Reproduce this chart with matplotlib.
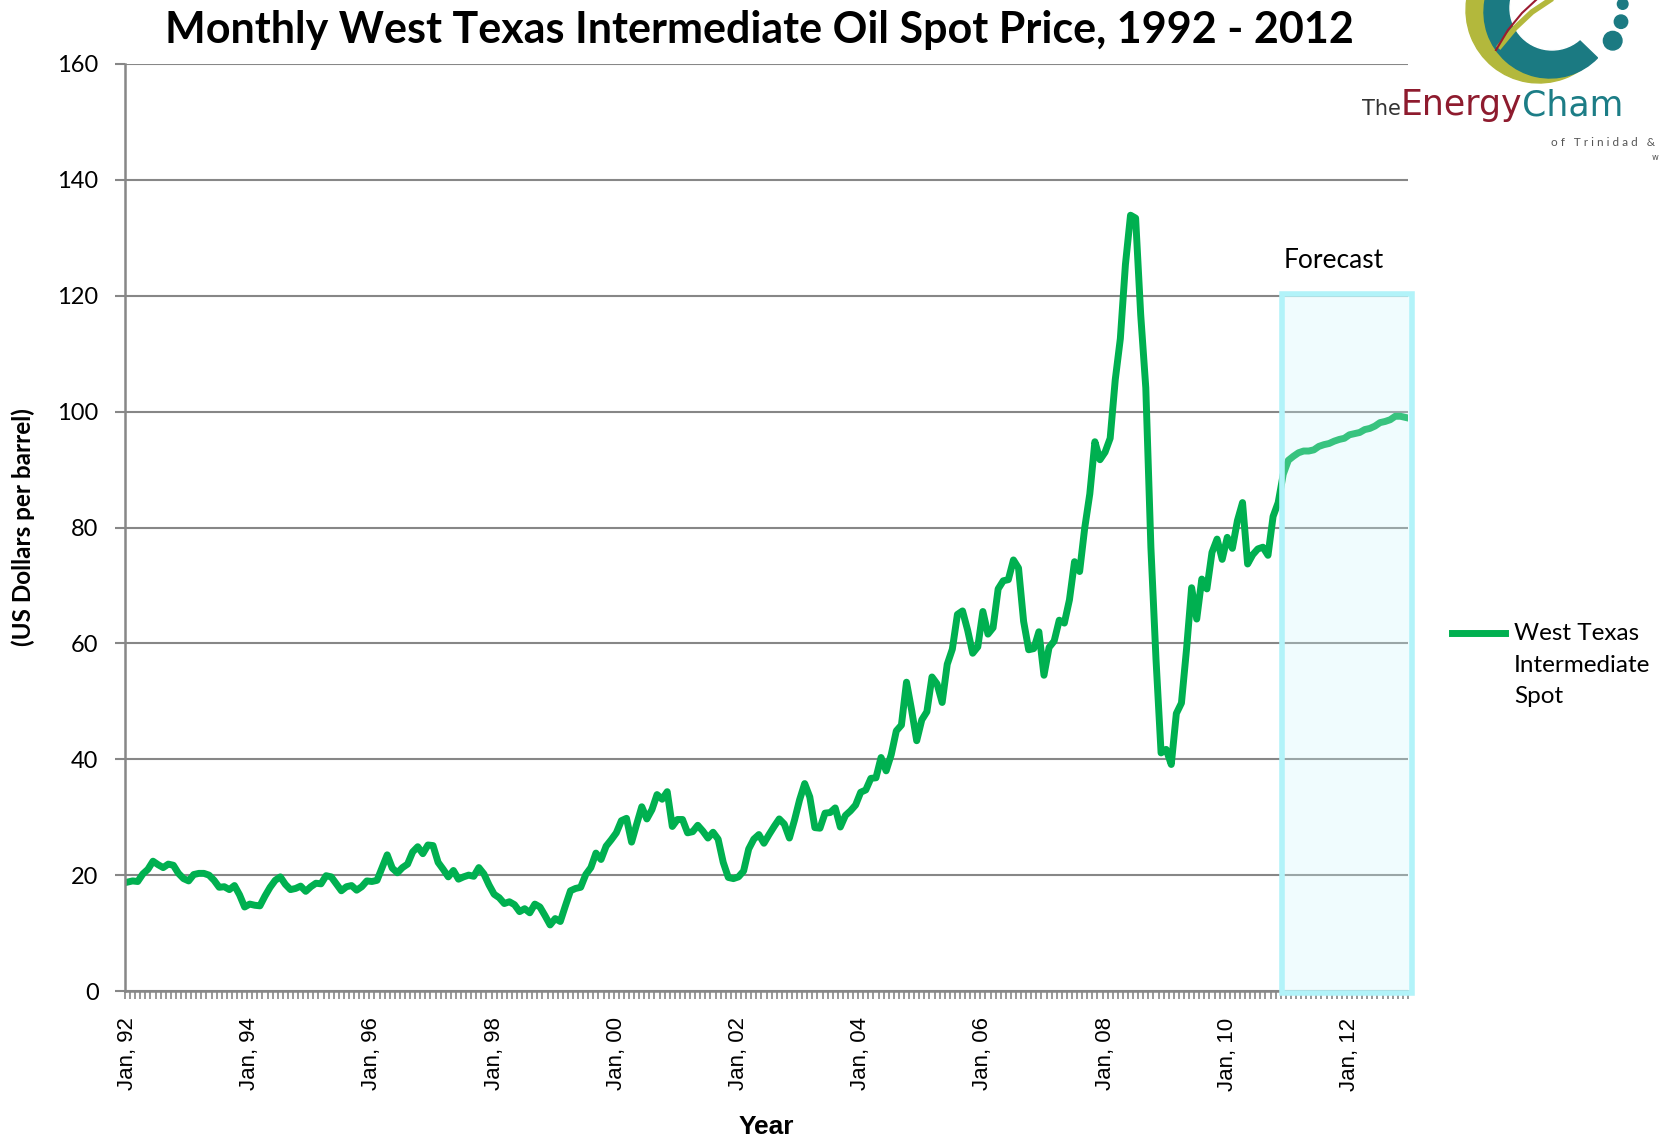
import numpy as np
import pandas as pd
import matplotlib
matplotlib.use("Agg")
from matplotlib import pyplot as plt
from matplotlib.patches import Rectangle, Wedge, Circle
from matplotlib.lines import Line2D

# monthly WTI spot price, US$/bbl, one row per year, Jan 1992 - Dec 2010
actual_prices = [
    18.8, 19.0, 18.9, 20.2, 21.0, 22.4, 21.8, 21.3, 21.9, 21.7, 20.3, 19.4,   # 1992
    19.0, 20.1, 20.3, 20.3, 20.0, 19.1, 17.9, 18.0, 17.5, 18.2, 16.6, 14.5,   # 1993
    15.0, 14.8, 14.7, 16.4, 17.9, 19.1, 19.7, 18.4, 17.5, 17.7, 18.1, 17.2,   # 1994
    18.0, 18.6, 18.5, 19.9, 19.7, 18.5, 17.3, 18.0, 18.2, 17.4, 18.0, 19.0,   # 1995
    18.9, 19.1, 21.3, 23.5, 21.2, 20.4, 21.3, 21.9, 24.0, 24.9, 23.7, 25.2,   # 1996
    25.1, 22.2, 21.0, 19.7, 20.8, 19.3, 19.7, 20.0, 19.8, 21.3, 20.2, 18.3,   # 1997
    16.7, 16.1, 15.1, 15.4, 14.9, 13.7, 14.2, 13.5, 15.0, 14.5, 13.0, 11.4,   # 1998
    12.5, 12.0, 14.7, 17.3, 17.7, 17.9, 20.1, 21.3, 23.8, 22.7, 25.0, 26.1,   # 1999
    27.3, 29.4, 29.8, 25.7, 28.8, 31.8, 29.7, 31.3, 33.9, 33.1, 34.4, 28.4,   # 2000
    29.6, 29.6, 27.3, 27.5, 28.6, 27.6, 26.4, 27.4, 26.2, 22.2, 19.6, 19.4,   # 2001
    19.7, 20.7, 24.5, 26.2, 27.0, 25.5, 27.0, 28.4, 29.7, 28.8, 26.4, 29.5,   # 2002
    33.0, 35.8, 33.5, 28.2, 28.1, 30.7, 30.8, 31.6, 28.3, 30.3, 31.1, 32.1,   # 2003
    34.3, 34.7, 36.7, 36.8, 40.3, 38.0, 40.8, 44.9, 45.9, 53.3, 48.5, 43.2,   # 2004
    46.8, 48.2, 54.2, 53.0, 49.8, 56.4, 59.0, 65.0, 65.6, 62.3, 58.3, 59.4,   # 2005
    65.5, 61.6, 62.7, 69.4, 70.8, 71.0, 74.4, 73.0, 63.8, 58.9, 59.1, 62.0,   # 2006
    54.5, 59.3, 60.4, 64.0, 63.5, 67.5, 74.1, 72.4, 79.9, 85.8, 94.8, 91.7,   # 2007
    93.0, 95.4, 105.5, 112.6, 125.4, 133.9, 133.4, 116.7, 104.1, 76.6, 57.3, 41.1,  # 2008
    41.7, 39.1, 47.9, 49.7, 59.0, 69.6, 64.2, 71.1, 69.4, 75.7, 78.0, 74.5,   # 2009
    78.3, 76.4, 81.2, 84.3, 73.7, 75.3, 76.3, 76.6, 75.2, 81.9, 84.3, 89.2,   # 2010
]
# forecast, Jan 2011 - Dec 2012
forecast_prices = [
    91.6, 92.3, 92.9, 93.2, 93.2, 93.4, 94.0, 94.3, 94.5, 94.9, 95.2, 95.4,
    96.0, 96.2, 96.4, 96.9, 97.1, 97.5, 98.1, 98.3, 98.6, 99.2, 99.2, 99.0,
]
series_name = "West Texas\nIntermediate\nSpot"
y_ticks = list(range(0, 161, 20))

prices = actual_prices + forecast_prices
months = pd.date_range("1992-01-01", periods=len(prices), freq="MS")
x = np.arange(len(prices))
label_pos = x[::24]
label_txt = ["Jan, " + d.strftime("%y") for d in months[::24]]

green = "#00b050"
grey = "#878787"
W, H = 1662, 1143

fig = plt.figure(figsize=(W / 100, H / 100), dpi=100)
ax = fig.add_axes([125 / W, 1 - 991 / H, 1283 / W, 927 / H])

ax.plot(x, prices, color=green, lw=5, zorder=2, solid_joinstyle="round")

# forecast box drawn over the last part of the line
fc_x0 = len(actual_prices) - 1.3
box = Rectangle((fc_x0, -0.4), len(prices) + 0.3 - fc_x0, 120.7,
                facecolor=(0.80, 0.97, 0.99, 0.28), edgecolor="#b2f3f9",
                lw=4, zorder=3, clip_on=False)
ax.add_patch(box)
ax.text(fc_x0 + 10.3, 126, "Forecast", ha="center", va="center",
        fontsize=19, family="Lato")

ax.set_xlim(-0.5, len(prices) - 0.5)
ax.set_ylim(0, 160)
ax.set_yticks(y_ticks)
ax.set_yticklabels([str(v) for v in y_ticks], family="Lato", fontsize=17)
ax.yaxis.grid(True, color=grey, lw=1.5)
ax.set_axisbelow(True)

ax.set_xticks(label_pos)
ax.set_xticklabels(label_txt, rotation=90, family="Liberation Sans", fontsize=16,
                   va="top", ha="center")
ax.set_xticks(np.arange(-0.5, len(prices), 1), minor=True)
ax.tick_params(axis="x", which="major", length=0, pad=19)
ax.tick_params(axis="x", which="minor", length=6, width=1.2, color=grey)
ax.tick_params(axis="y", length=7, width=1.5, color=grey, pad=12)

for s in ["top", "right"]:
    ax.spines[s].set_visible(False)
for s in ["left", "bottom"]:
    ax.spines[s].set_color(grey)
    ax.spines[s].set_linewidth(1.8)

fig.text(0.457, 0.974, "Monthly West Texas Intermediate Oil Spot Price, 1992 - 2012",
         ha="center", va="center", fontsize=31, fontweight="bold", family="Lato")
fig.text(0.0138, 0.539, "(US Dollars per barrel)", rotation=90, ha="center",
         va="center", fontsize=17.5, fontweight="bold", family="Lato")
fig.text(0.461, 0.014, "Year", ha="center", va="center", fontsize=19,
         fontweight="bold", family=["Liberation Sans Narrow", "Liberation Sans"])

# legend
fig.add_artist(Line2D([1452 / W, 1505 / W], [1 - 633 / H] * 2,
                      transform=fig.transFigure, color=green, lw=5))
fig.text(1514 / W, 1 - 633 / H + 0.0085, series_name, ha="left", va="top",
         fontsize=17.5, family="Lato", linespacing=1.62)

# logo, top right (pixel coordinates)
lg = fig.add_axes([1440 / W, 1 - 100 / H, 222 / W, 100 / H])
lg.set_xlim(1440, 1662)
lg.set_ylim(100, 0)
lg.axis("off")
lg.add_patch(Wedge((1539, 10), 73, 40, 278, color="#b3b83c"))
lg.add_patch(Wedge((1550, 12), 66, 44, 278, color="#1b7a82"))
lg.add_patch(Circle((1552, 8), 42, color="white"))
lg.plot([1500, 1515, 1532, 1550], [46, 28, 12, 0], color="#b3b83c", lw=4)
lg.plot([1496, 1508, 1522, 1536], [50, 30, 13, 0], color="#9b1b30", lw=1.5)
for cx, cy, r in [(1622.7, 4, 5.3), (1621, 21.7, 6.7), (1612.7, 40.7, 9.3)]:
    lg.add_patch(Circle((cx, cy), r, color="#1b7a82"))

# logo words, placed one after another (the name runs off the right edge)
renderer = fig.canvas.get_renderer()
px = 1362
for word, size, col in [("The", 15, "#333333"), ("Energy", 25, "#8e1b2e"),
                        ("Cham", 25, "#1c7d86")]:
    t = fig.text(px / W, 1 - 115 / H, word, fontsize=size, color=col,
                 family="DejaVu Sans", va="baseline")
    px += t.get_window_extent(renderer).width
fig.text(1551 / W, 1 - 143 / H, "o f   T r i n i d a d   &",
         fontsize=8.5, color="#555555", family="Lato", va="center")
fig.text(1652 / W, 1 - 157 / H, "w", fontsize=6, color="#555555", va="center")

fig.savefig("out.png", dpi=100)
